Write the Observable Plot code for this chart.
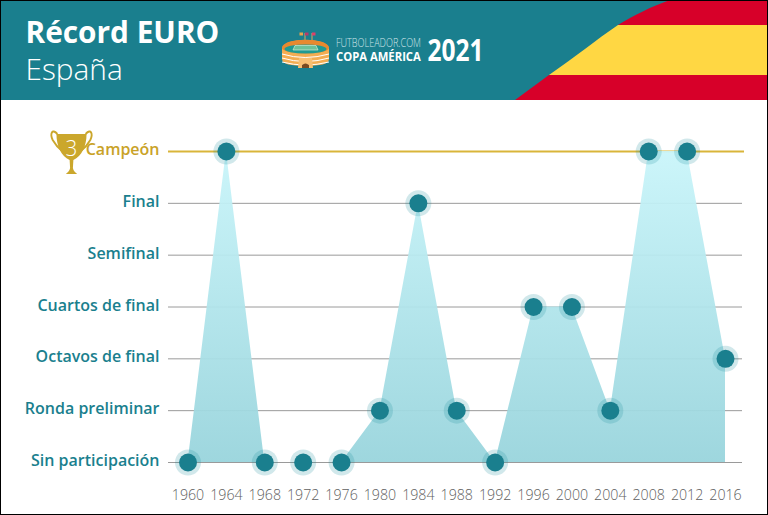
<!DOCTYPE html>
<html lang="es">
<head>
<meta charset="utf-8">
<script src="https://cdn.jsdelivr.net/npm/d3@7"></script>
<script src="https://cdn.jsdelivr.net/npm/@observablehq/plot@0.6"></script>
<style>
html,body{margin:0;padding:0;background:#fff}
#page{position:relative;width:768px;height:515px;overflow:hidden;font-family:"Open Sans",sans-serif;background:#fff}
#head{position:absolute;left:0;top:0;width:768px;height:100px;display:block}
#trophy{position:absolute;left:48px;top:128px;width:47px;height:48px;z-index:3}
#chart{position:absolute;left:0;top:100px}
#chart svg{display:block;background:transparent}
#frame{position:absolute;left:0;top:0;width:768px;height:515px;box-sizing:border-box;border:1px solid #000;pointer-events:none;z-index:5}
</style>
</head>
<body>
<div id="page">
<svg id="head" viewBox="0 0 768 100" xmlns="http://www.w3.org/2000/svg">
  <defs><clipPath id="flagClip"><path d="M515 100L549 75C575 57 596 40 618 25C635 15 650 7 670 0L768 0L768 100Z"/></clipPath></defs>
  <rect width="768" height="100" fill="#1a7f8e"/>
  <g clip-path="url(#flagClip)">
    <rect x="500" y="0" width="268" height="25" fill="#d70029"/>
    <rect x="500" y="25" width="268" height="50" fill="#ffd743"/>
    <rect x="500" y="75" width="268" height="25" fill="#d70029"/>
  </g>
  <text x="25.500" y="43" fill="#fff" font-family="Open Sans" font-weight="700" font-size="29.800">Récord EURO</text>
  <text x="25.500" y="80" fill="#fff" font-family="Open Sans" font-weight="300" font-size="29.800">España</text>
  <g>
    <line x1="305" y1="33" x2="305" y2="42" stroke="#d9a860" stroke-width="1"/>
    <line x1="312" y1="33" x2="312" y2="42" stroke="#d9a860" stroke-width="1"/>
    <rect x="299.500" y="32.500" width="3.500" height="3" fill="#e8a54b"/>
    <rect x="305" y="32.500" width="3.500" height="3" fill="#b8396b"/>
    <rect x="312" y="32.500" width="3.500" height="3" fill="#e0406a"/>
    <path d="M282 49C282 37 329 37 329 49L329 59C329 64 320 66 305.500 66C291 66 282 64 282 59Z" fill="#f4ad52"/>
    <path d="M282 48C282 37 329 37 329 48C329 55 282 55 282 48Z" fill="#e8892f"/>
    <ellipse cx="305.500" cy="49" rx="21" ry="4.500" fill="#1f9a92"/>
    <path d="M295 45.500H316L318 50H293Z" fill="#6cc29a" stroke="#e8f4e0" stroke-width="0.6"/>
    <path d="M282 54Q305 61 329 54M282 58Q305 65 329 58M282 62Q305 68 329 62" fill="none" stroke="#fff" stroke-width="1"/>
    <path d="M299 58L312 58L313 68L309 68L309 65Q305.500 62 302 65L302 68L298 68Z" fill="#f8bf73"/>
    <path d="M302 68L302 65Q305.500 62 309 65L309 68Z" fill="#7a4a20"/>
  </g>
  <text class="fit" data-x="336" data-w="85" y="47" fill="#cfe4e8" font-family="Open Sans" font-weight="300" font-size="13">FUTBOLEADOR.COM</text>
  <text class="fit" data-x="336" data-w="85" y="61.500" fill="#fff" font-family="Open Sans" font-weight="700" font-size="13">COPA AMÉRICA</text>
  <text class="fit" data-x="427.500" data-w="56" y="61.500" fill="#fff" font-family="Open Sans" font-weight="700" font-size="31">2021</text>
</svg>
<div id="chart"></div>
<svg id="trophy" viewBox="0 0 50 48" preserveAspectRatio="none" xmlns="http://www.w3.org/2000/svg">
  <path d="M10 6C4 0 2 6 5 12C8 17 11 20 15 23M40 6C46 0 48 6 45 12C42 17 39 20 35 23" fill="none" stroke="#cba72c" stroke-width="2"/>
  <path d="M9 6L41 6C41 18 36 28 27 32L26.500 40C27 43 29 44 31 46L19 46C21 44 23 43 23.500 40L23 32C14 28 9 18 9 6Z" fill="#cba72c"/>
  <text x="25" y="28" text-anchor="middle" fill="#fff" font-family="Open Sans" font-weight="300" font-size="22">3</text>
</svg>
<div id="frame"></div>
</div>
<script>
const years = [1960,1964,1968,1972,1976,1980,1984,1988,1992,1996,2000,2004,2008,2012,2016];
const results = [0,6,0,0,0,1,5,1,0,3,3,1,6,6,2];
const stages = ["Sin participación","Ronda preliminar","Octavos de final","Cuartos de final","Semifinal","Final","Campeón"];

const teal = "#1a7f8e", gold = "#c9a227";
const rows = years.map((year, i) => ({year, result: results[i]}));
const levels = d3.range(stages.length);
const lowerLevels = levels.slice(0, -1);
const topLevel = levels.slice(-1);

const chart = Plot.plot({
  width: 768, height: 415,
  marginLeft: 168, marginRight: 24, marginTop: 0, marginBottom: 26,
  style: {background: "transparent", fontFamily: "Open Sans"},
  x: {domain: [1960, 2016], range: [187.5, 725], axis: null},
  y: {domain: [0, 6], range: [362, 51], axis: null},
  marks: [
    Plot.ruleY(lowerLevels, {stroke: "#9a9a9a", strokeWidth: 1, insetRight: 2}),
    Plot.ruleY(topLevel, {stroke: "#d9b53a", strokeWidth: 2}),
    Plot.areaY(rows, {x: "year", y1: 0, y2: "result", fill: "url(#euroFill)", fillOpacity: 0.94, curve: "linear"}),
    Plot.dot(rows, {x: "year", y: "result", r: 13, fill: "#1a8b9b", fillOpacity: 0.2}),
    Plot.dot(rows, {x: "year", y: "result", r: 9, fill: teal}),
    Plot.axisX({
      ticks: years, tickFormat: d => String(d), tickSize: 0, tickPadding: 0,
      anchor: "bottom", label: null, fill: "#5f5f5f", fontSize: 14.2, fontWeight: 300,
      fontFamily: "Open Sans"
    }),
    Plot.axisY({
      ticks: lowerLevels, tickFormat: d => stages[d], tickSize: 0, tickPadding: 9, dy: -1.5,
      anchor: "left", label: null, fill: teal, fontSize: 16, fontWeight: 600, fontFamily: "Open Sans"
    }),
    Plot.axisY({
      ticks: topLevel, tickFormat: d => stages[d], tickSize: 0, tickPadding: 9, dy: -1.5,
      anchor: "left", label: null, fill: gold, fontSize: 16, fontWeight: 600, fontFamily: "Open Sans"
    })
  ]
});
const ns = "http://www.w3.org/2000/svg";
const defs = document.createElementNS(ns, "defs");
defs.innerHTML = '<linearGradient id="euroFill" x1="0" y1="0" x2="0" y2="1"><stop offset="0" stop-color="#c9f5fa"/><stop offset="1" stop-color="#98d4dc"/></linearGradient>';
chart.insertBefore(defs, chart.firstChild);
document.getElementById("chart").appendChild(chart);
document.querySelectorAll("text.fit").forEach(t => {
  const s = +t.dataset.w / t.getComputedTextLength();
  t.setAttribute("transform", `translate(${t.dataset.x} 0) scale(${s} 1)`);
});
</script>
</body>
</html>
